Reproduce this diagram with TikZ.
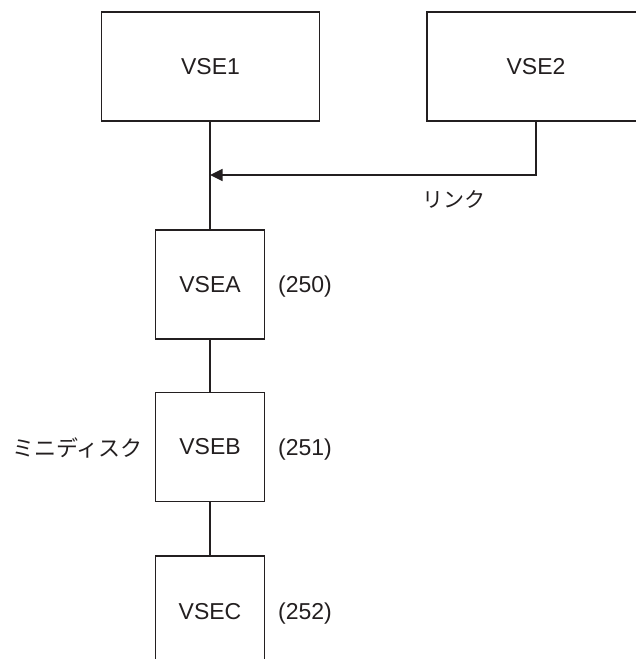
\documentclass[tikz,border=0pt]{standalone}
\usepackage{fontspec}
\setmainfont{Liberation Sans}
\newfontfamily\jpfont{Noto Sans CJK JP}
\usetikzlibrary{arrows.meta}
\definecolor{ink}{HTML}{231F20}
\tikzset{
  sysbox/.style={draw=ink, line width=1.3pt, fill=white, text=ink,
    minimum width=218pt, minimum height=109pt, inner sep=0pt,
    font=\fontsize{23}{27}\selectfont},
  guestbox/.style={sysbox, minimum width=109pt},
  tag/.style={text=ink, inner sep=0pt, font=\fontsize{23}{27}\selectfont},
  jtag/.style={tag, font=\fontsize{21}{25}\selectfont\jpfont},
  wire/.style={draw=ink, line width=1.3pt},
}
\begin{document}
\begin{tikzpicture}[x=1pt, y=-1pt]
\useasboundingbox (0,0) rectangle (636,659);
% host systems
\node[sysbox] (vse1) at (210.5,66.5) {VSE1};
\node[sysbox] (vse2) at (536,66.5) {VSE2};
% guest systems on minidisks
\node[guestbox] (vsea) at (210,284.5) {VSEA};
\node[guestbox] (vseb) at (210,447) {VSEB};
\node[guestbox, minimum height=112pt] (vsec) at (210,612) {VSEC};
% labels
\node[tag, anchor=west] (la) at (278,287) {(250)};
\node[tag, anchor=west] (lb) at (278,450) {(251)};
\node[tag, anchor=west] (lc) at (278,614) {(252)};
\node[jtag, anchor=east, font=\fontsize{22}{26}\selectfont\jpfont] (mini) at (143,448) {ミニディスク};
\node[jtag, anchor=west] (link) at (422,199.5) {リンク};
% connectors
\coordinate (join) at (vsea.north |- 0,175);
\draw[wire] (vse1.south -| vsea.north) -- (vsea.north);
\draw[wire] (vsea.south) -- (vseb.north);
\draw[wire] (vseb.south) -- (vsec.north);
\draw[wire, -{Triangle[length=12.5pt,width=12pt]}] (vse2.south) |- (join);
\end{tikzpicture}
\end{document}
